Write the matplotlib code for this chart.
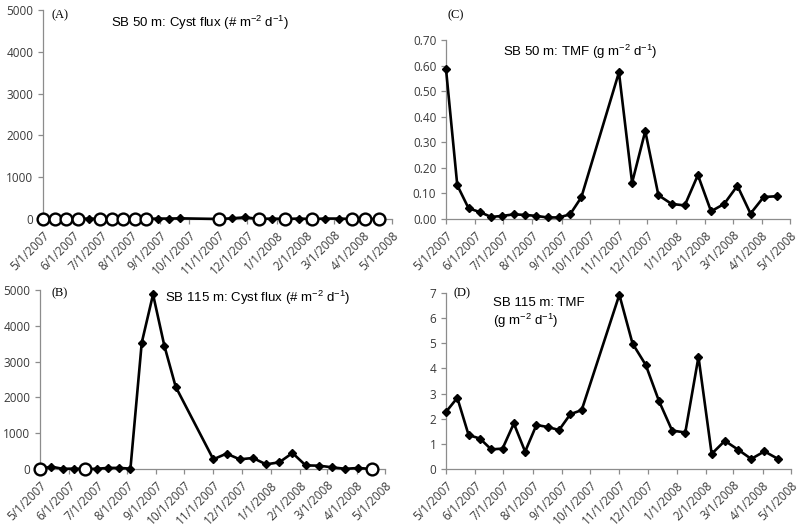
import datetime as dt
import matplotlib
matplotlib.use("Agg")
import matplotlib.pyplot as plt
import matplotlib.dates as mdates
from matplotlib.ticker import FuncFormatter, FormatStrFormatter

# sampling dates (trap collection midpoints)
dates = [
    "2007-05-01", "2007-05-13", "2007-05-25", "2007-06-06", "2007-06-18",
    "2007-06-30", "2007-07-12", "2007-07-24", "2007-08-05", "2007-08-17",
    "2007-08-29", "2007-09-10", "2007-09-22", "2007-11-01", "2007-11-15",
    "2007-11-29", "2007-12-13", "2007-12-27", "2008-01-10", "2008-01-24",
    "2008-02-07", "2008-02-21", "2008-03-06", "2008-03-20", "2008-04-03",
    "2008-04-17",
]

cyst_50 = [0, 0, 0, 0, 10, 0, 0, 0, 0, 0, 10, 10, 15, 0, 15, 40,
           0, 10, 0, 10, 0, 10, 10, 0, 0, 0]
cyst_115 = [0, 65, 5, 10, 0, 5, 30, 30, 10, 3530, 4880, 3445, 2300, 270,
            430, 270, 307, 130, 186, 447, 100, 93, 47, 5, 28, 0]
tmf_50 = [0.587, 0.132, 0.042, 0.027, 0.008, 0.012, 0.018, 0.016, 0.012,
          0.006, 0.006, 0.018, 0.085, 0.574, 0.142, 0.344, 0.093, 0.059,
          0.053, 0.172, 0.030, 0.059, 0.130, 0.021, 0.086, 0.089]
tmf_115 = [2.27, 2.83, 1.35, 1.21, 0.78, 0.81, 1.81, 0.69, 1.75, 1.67, 1.55,
           2.18, 2.34, 6.93, 4.99, 4.14, 2.71, 1.53, 1.45, 4.46, 0.60, 1.12,
           0.77, 0.40, 0.70, 0.41]

# points shown as open circles (not detected)
zero_50 = [0, 1, 2, 3, 5, 6, 7, 8, 9, 13, 16, 18, 20, 23, 24, 25]
zero_115 = [0, 4, 25]

x = [dt.datetime.strptime(d, "%Y-%m-%d") for d in dates]
x0 = dt.datetime(2007, 5, 1)
x1 = dt.datetime(2008, 5, 1)

plt.rcParams['font.family'] = ['Open Sans', 'DejaVu Sans']
plt.rcParams['mathtext.fontset'] = 'custom'
plt.rcParams['mathtext.rm'] = 'Liberation Sans'
plt.rcParams['mathtext.it'] = 'Liberation Sans'
plt.rcParams['mathtext.default'] = 'regular'
GRAY = "#8c8c8c"
TICKC = "#3a3a3a"


def date_fmt(v, pos):
    d = mdates.num2date(v)
    return f"{d.month}/{d.day}/{d.year}"


def style_axes(ax, ymax, ystep, yfmt):
    ax.set_xlim(x0, x1)
    ax.set_ylim(0, ymax)
    ax.set_yticks([i * ystep for i in range(int(round(ymax / ystep)) + 1)])
    ax.yaxis.set_major_formatter(FormatStrFormatter(yfmt))
    ax.xaxis.set_major_locator(mdates.MonthLocator())
    ax.xaxis.set_major_formatter(FuncFormatter(date_fmt))
    for s in ("top", "right"):
        ax.spines[s].set_visible(False)
    for s in ("left", "bottom"):
        ax.spines[s].set_color(GRAY)
        ax.spines[s].set_linewidth(0.9)
    ax.tick_params(axis="both", colors=GRAY, length=3.5, width=0.9,
                   labelcolor=TICKC, labelsize=8.5, direction="out")
    for lab in ax.get_xticklabels():
        lab.set_rotation(45)
        lab.set_ha("right")
        lab.set_rotation_mode("anchor")


def draw(ax, y, zeros=None):
    ax.plot(x, y, color="black", lw=1.9, marker="D", ms=4.5,
            mfc="black", mec="black", zorder=3, clip_on=False)
    if zeros:
        ax.plot([x[i] for i in zeros], [y[i] for i in zeros], ls="none",
                marker="o", ms=8.5, mfc="white", mec="black", mew=1.7,
                zorder=4, clip_on=False)


fig = plt.figure(figsize=(8.0, 5.26), dpi=100)

axA = fig.add_axes([0.054, 0.5837, 0.436, 0.397])
axB = fig.add_axes([0.050, 0.1084, 0.431, 0.340])
axC = fig.add_axes([0.5575, 0.5837, 0.430, 0.340])
axD = fig.add_axes([0.5575, 0.1084, 0.431, 0.3346])

draw(axA, cyst_50, zero_50)
style_axes(axA, 5000, 1000, "%d")
draw(axB, cyst_115, zero_115)
style_axes(axB, 5000, 1000, "%d")
draw(axC, tmf_50)
style_axes(axC, 0.70, 0.10, "%.2f")
draw(axD, tmf_115)
style_axes(axD, 7, 1, "%d")

serif = ['Liberation Serif', 'DejaVu Serif']
fig.text(52 / 800, 1 - 15 / 526, "(A)", family=serif, fontsize=9, va="center")
fig.text(52 / 800, 1 - 293 / 526, "(B)", family=serif, fontsize=9, va="center")
fig.text(447 / 800, 1 - 15 / 526, "(C)", family=serif, fontsize=9, va="center")
fig.text(453 / 800, 1 - 293 / 526, "(D)", family=serif, fontsize=9, va="center")

tfont = ['Liberation Sans', 'DejaVu Sans']
fig.text(200 / 800, 1 - 23 / 526, r"SB 50 m: Cyst flux (# m$^{-2}$ d$^{-1}$)",
         family=tfont, fontsize=9.5, ha="center", va="center")
fig.text(258 / 800, 1 - 298 / 526, r"SB 115 m: Cyst flux (# m$^{-2}$ d$^{-1}$)",
         family=tfont, fontsize=9.5, ha="center", va="center")
fig.text(580 / 800, 1 - 52 / 526, r"SB 50 m: TMF (g m$^{-2}$ d$^{-1}$)",
         family=tfont, fontsize=9.5, ha="center", va="center")
fig.text(493 / 800, 1 - 303 / 526, "SB 115 m: TMF",
         family=tfont, fontsize=9.5, ha="left", va="center")
fig.text(493 / 800, 1 - 321 / 526, r"(g m$^{-2}$ d$^{-1}$)",
         family=tfont, fontsize=9.5, ha="left", va="center")

fig.savefig("out.png", dpi=100)
